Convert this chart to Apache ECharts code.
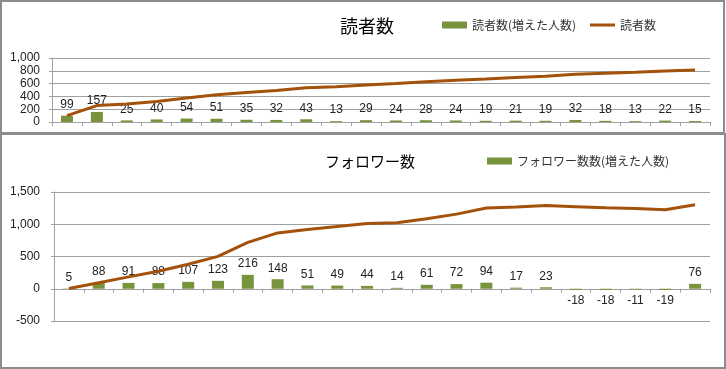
<!DOCTYPE html>
<html>
<head>
<meta charset="utf-8">
<script src="https://cdn.jsdelivr.net/npm/echarts@6/dist/echarts.min.js"></script>
<style>
html,body{margin:0;padding:0;background:#fff;}
#main{width:726px;height:369px;}
</style>
</head>
<body>
<div id="main"></div>
<script>
// ---- data ----
var categories = ['1','2','3','4','5','6','7','8','9','10','11','12','13','14','15','16','17','18','19','20','21','22'];
var readerIncrease = [99,157,25,40,54,51,35,32,43,13,29,24,28,24,19,21,19,32,18,13,22,15];
var readerTotal = [99,256,281,321,375,426,461,493,536,549,578,602,630,654,673,694,713,745,763,776,798,813];
var followerIncrease = [5,88,91,88,107,123,216,148,51,49,44,14,61,72,94,17,23,-18,-18,-11,-19,76];
var followerTotal = [5,93,184,272,379,502,718,866,917,966,1010,1024,1085,1157,1251,1268,1291,1273,1255,1244,1225,1301];
var readerTicks = {min:0, max:1000, interval:200};
var followerTicks = {min:-500, max:1500, interval:500};

var FONT = '"Liberation Sans","Noto Sans CJK JP",sans-serif';
var JP = '"Noto Sans CJK JP",sans-serif';
var BAR = '#77933C', LINE = '#A3510B', GRID = '#a0a0a0';

function fmt(v){ return v.toLocaleString('en-US'); }
function barData(arr){
  return arr.map(function(v){
    return {value:v, label:{position: v < 0 ? 'bottom' : 'top'}};
  });
}
var chart = echarts.init(document.getElementById('main'));
var xCommon = {
  type:'category', data:categories,
  axisLine:{lineStyle:{color:GRID, width:1}},
  axisTick:{show:true, alignWithLabel:false, length:4, inside:false, lineStyle:{color:GRID}},
  axisLabel:{show:false}, splitLine:{show:false}
};
function yAx(gi, t, margin){
  return {
    type:'value', gridIndex:gi, min:t.min, max:t.max, interval:t.interval,
    axisLine:{show:true, lineStyle:{color:GRID, width:1}},
    axisTick:{show:true, length:3, lineStyle:{color:GRID}},
    splitLine:{show:true, lineStyle:{color:GRID, width:1}},
    axisLabel:{formatter:fmt, color:'#222', fontSize:12, fontFamily:FONT, margin:margin}
  };
}
var lbl = {show:true, distance:5, color:'#222', fontSize:12, fontFamily:FONT};
var legText = {fontFamily:JP, fontSize:12, color:'#333'};
chart.setOption({
  animation:false,
  graphic:[
    {type:'rect', shape:{x:1,y:1,width:723,height:132}, style:{fill:'none', stroke:'#8c8c8c', lineWidth:2}},
    {type:'rect', shape:{x:1,y:134,width:724,height:234}, style:{fill:'none', stroke:'#8c8c8c', lineWidth:2}}
  ],
  title:[
    {text:'読者数', left:335, top:12, textStyle:{fontFamily:JP, fontSize:18, fontWeight:'normal', color:'#000'}},
    {text:'フォロワー数', left:320, top:149, textStyle:{fontFamily:JP, fontSize:15, fontWeight:'normal', color:'#000'}}
  ],
  legend:[
    {left:437, top:14, itemWidth:25, itemHeight:7, textStyle:legText,
     data:[{name:'読者数(増えた人数)', icon:'rect'}]},
    {left:585, top:14, itemWidth:25, itemHeight:3, textStyle:legText,
     data:[{name:'読者数', icon:'rect', itemStyle:{color:LINE}}]},
    {left:482, top:150, itemWidth:25, itemHeight:7, textStyle:legText,
     data:[{name:'フォロワー数数(増えた人数)', icon:'rect'}]}
  ],
  grid:[
    {left:52, right:16, top:58, height:64},
    {left:54, right:16, top:192, height:129}
  ],
  xAxis:[
    Object.assign({gridIndex:0}, xCommon),
    Object.assign({gridIndex:1}, xCommon)
  ],
  yAxis:[ yAx(0, readerTicks, 12), yAx(1, followerTicks, 14) ],
  series:[
    {name:'読者数(増えた人数)', type:'bar', xAxisIndex:0, yAxisIndex:0, data:barData(readerIncrease),
     barWidth:12, itemStyle:{color:BAR}, label:lbl},
    {name:'読者数', type:'line', xAxisIndex:0, yAxisIndex:0, data:readerTotal,
     symbol:'none', lineStyle:{color:LINE, width:3}, itemStyle:{color:LINE}, z:3},
    {name:'フォロワー数数(増えた人数)', type:'bar', xAxisIndex:1, yAxisIndex:1, data:barData(followerIncrease),
     barWidth:12, itemStyle:{color:BAR}, label:lbl},
    {name:'フォロワー数', type:'line', xAxisIndex:1, yAxisIndex:1, data:followerTotal,
     symbol:'none', lineStyle:{color:LINE, width:3}, itemStyle:{color:LINE}, z:3}
  ]
});
</script>
</body>
</html>
